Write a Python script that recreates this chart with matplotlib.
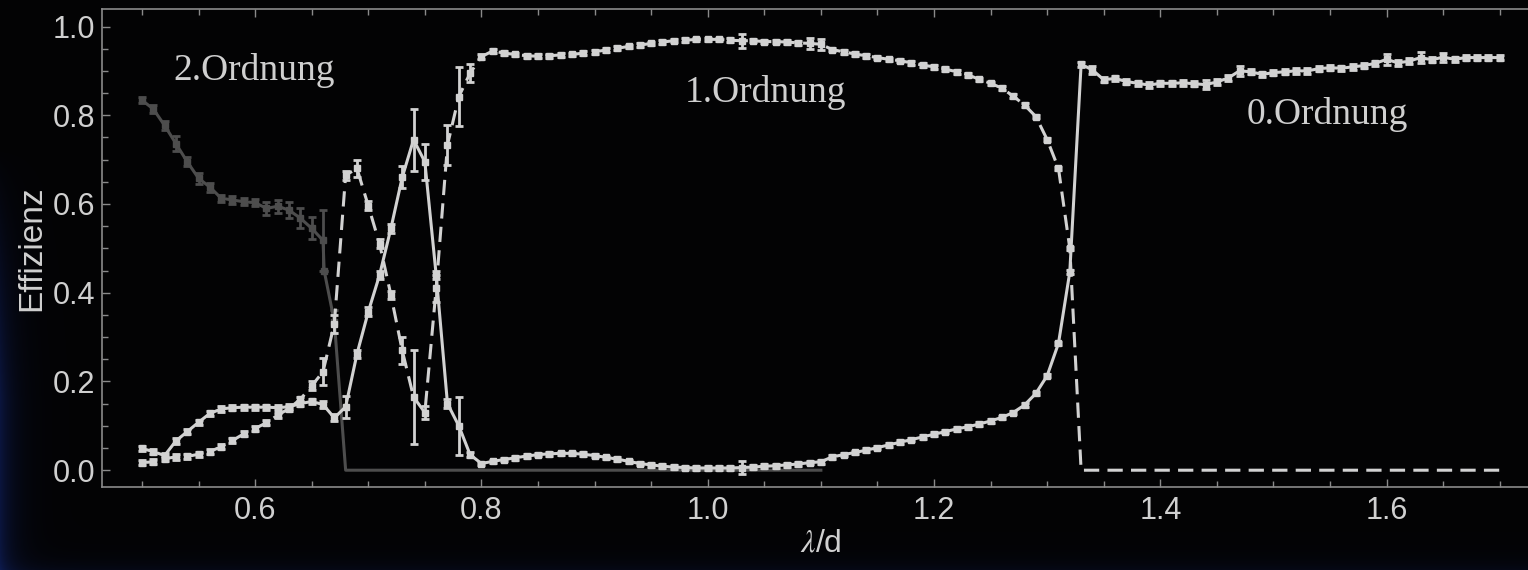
import numpy as np
import matplotlib
matplotlib.use("Agg")
import matplotlib.pyplot as plt
from matplotlib.ticker import MultipleLocator

plt.rcParams['font.family'] = ['Liberation Sans', 'DejaVu Sans']
plt.rcParams['mathtext.fontset'] = 'stix'

# --- data -------------------------------------------------------------
# 0. Ordnung (solid, light), lambda/d = 0.50 ... 1.70 in steps of 0.01
x0 = np.round(np.arange(0.50, 1.705, 0.01), 2)
y0 = [0.049, 0.042, 0.033, 0.066, 0.087, 0.108, 0.128, 0.138, 0.141, 0.142,
      0.142, 0.142, 0.141, 0.143, 0.150, 0.155, 0.148, 0.118, 0.143, 0.262,
      0.357, 0.440, 0.545, 0.660, 0.745, 0.695, 0.440, 0.150, 0.100, 0.035,
      0.015, 0.020, 0.024, 0.028, 0.032, 0.035, 0.037, 0.038, 0.038, 0.036,
      0.033, 0.029, 0.025, 0.020, 0.015, 0.012, 0.009, 0.007, 0.006, 0.005,
      0.005, 0.005, 0.005, 0.006, 0.007, 0.009, 0.010, 0.012, 0.014, 0.017,
      0.019, 0.030, 0.035, 0.040, 0.045, 0.051, 0.057, 0.063, 0.069, 0.075,
      0.081, 0.087, 0.093, 0.098, 0.104, 0.111, 0.119, 0.130, 0.147, 0.173,
      0.213, 0.286, 0.447, 0.915, 0.902, 0.880, 0.883, 0.876, 0.872, 0.868,
      0.872, 0.872, 0.873, 0.871, 0.869, 0.875, 0.884, 0.900, 0.898, 0.892,
      0.896, 0.898, 0.900, 0.900, 0.905, 0.907, 0.906, 0.909, 0.912, 0.917,
      0.926, 0.918, 0.922, 0.930, 0.925, 0.931, 0.926, 0.930, 0.930, 0.930,
      0.930]
e0 = [0.006, 0.006, 0.006, 0.006, 0.006, 0.006, 0.006, 0.006, 0.006, 0.006,
      0.006, 0.006, 0.006, 0.006, 0.006, 0.006, 0.008, 0.008, 0.025, 0.010,
      0.010, 0.010, 0.010, 0.025, 0.070, 0.040, 0.010, 0.010, 0.065, 0.006,
      0.004, 0.004, 0.004, 0.004, 0.004, 0.004, 0.004, 0.004, 0.004, 0.004,
      0.004, 0.004, 0.004, 0.004, 0.004, 0.004, 0.004, 0.004, 0.004, 0.004,
      0.004, 0.004, 0.004, 0.015, 0.004, 0.004, 0.004, 0.004, 0.004, 0.004,
      0.004, 0.004, 0.004, 0.004, 0.004, 0.004, 0.004, 0.004, 0.004, 0.004,
      0.004, 0.004, 0.004, 0.004, 0.004, 0.004, 0.004, 0.004, 0.004, 0.004,
      0.004, 0.004, 0.004, 0.006, 0.008, 0.006, 0.006, 0.006, 0.006, 0.006,
      0.006, 0.006, 0.006, 0.006, 0.010, 0.006, 0.006, 0.012, 0.006, 0.006,
      0.006, 0.006, 0.006, 0.006, 0.006, 0.006, 0.006, 0.006, 0.006, 0.006,
      0.012, 0.006, 0.006, 0.012, 0.006, 0.010, 0.006, 0.006, 0.006, 0.006,
      0.006]

# 1. Ordnung (dashed, light), measured 0.50 ... 1.32, zero beyond
x1 = np.round(np.arange(0.50, 1.325, 0.01), 2)
y1 = [0.017, 0.019, 0.026, 0.030, 0.031, 0.036, 0.042, 0.053, 0.067, 0.082,
      0.094, 0.107, 0.124, 0.139, 0.160, 0.190, 0.222, 0.330, 0.665, 0.680,
      0.596, 0.510, 0.395, 0.270, 0.165, 0.130, 0.410, 0.733, 0.842, 0.895,
      0.932, 0.945, 0.940, 0.937, 0.934, 0.933, 0.934, 0.936, 0.937, 0.940,
      0.943, 0.947, 0.951, 0.955, 0.958, 0.962, 0.965, 0.968, 0.969, 0.971,
      0.971, 0.971, 0.969, 0.968, 0.968, 0.966, 0.966, 0.965, 0.963, 0.962,
      0.960, 0.948, 0.943, 0.938, 0.934, 0.930, 0.926, 0.923, 0.918, 0.913,
      0.909, 0.904, 0.898, 0.891, 0.881, 0.872, 0.861, 0.843, 0.823, 0.797,
      0.745, 0.680, 0.500]
e1 = [0.006, 0.006, 0.006, 0.006, 0.006, 0.006, 0.006, 0.006, 0.006, 0.006,
      0.006, 0.006, 0.006, 0.006, 0.006, 0.010, 0.030, 0.020, 0.010, 0.020,
      0.010, 0.010, 0.010, 0.030, 0.105, 0.015, 0.030, 0.045, 0.066, 0.020,
      0.006, 0.004, 0.004, 0.004, 0.004, 0.004, 0.004, 0.004, 0.004, 0.004,
      0.004, 0.004, 0.004, 0.004, 0.004, 0.004, 0.004, 0.004, 0.004, 0.004,
      0.004, 0.004, 0.004, 0.016, 0.004, 0.004, 0.004, 0.004, 0.004, 0.012,
      0.012, 0.004, 0.004, 0.004, 0.004, 0.004, 0.004, 0.004, 0.004, 0.004,
      0.004, 0.004, 0.004, 0.004, 0.004, 0.004, 0.004, 0.004, 0.004, 0.004,
      0.004, 0.004, 0.004]
x1_zero = [1.33, 1.70]
y1_zero = [0.0, 0.0]

# 2. Ordnung (solid, dark), measured 0.50 ... 0.67, zero beyond
x2 = [0.50, 0.51, 0.52, 0.53, 0.54, 0.55, 0.56, 0.57, 0.58, 0.59,
      0.60, 0.61, 0.62, 0.63, 0.64, 0.65, 0.66, 0.661, 0.67]
y2 = [0.834, 0.814, 0.777, 0.736, 0.695, 0.658, 0.638, 0.613, 0.609, 0.605,
      0.603, 0.590, 0.595, 0.586, 0.568, 0.545, 0.518, 0.450, 0.335]
e2 = [0.007, 0.008, 0.010, 0.017, 0.010, 0.012, 0.010, 0.008, 0.008, 0.008,
      0.008, 0.015, 0.015, 0.018, 0.022, 0.025, 0.068, 0.0, 0.025]
x2_zero = [0.68, 1.10]
y2_zero = [0.0, 0.0]

labels = ['2.Ordnung', '1.Ordnung', '0.Ordnung']
label_x = [0.528, 0.980, 1.476]
label_y = [0.879, 0.830, 0.780]

light = '#d2d2d2'
dark = '#4d4d4d'
axcol = '#8a8a8a'

# --- figure -------------------------------------------------------------
fig = plt.figure(figsize=(15.28, 5.70), dpi=100, facecolor='#030304')

# dark background with a faint blue glow on the left edge
bg = fig.add_axes([0, 0, 1, 1], zorder=-10)
H, W = 570, 1528
xx = np.linspace(0, W, W)[None, :]
yy = np.linspace(0, H, H)[:, None]
glow = np.exp(-xx / 14.0) * np.clip((yy - 150) / 250.0, 0, 1)
glow = glow + 0.3 * np.exp(-(H - yy) / 10.0) * np.ones_like(xx)
img = np.zeros((H, W, 3))
img[..., 0] = 0.012 + 0.03 * glow
img[..., 1] = 0.012 + 0.07 * glow
img[..., 2] = 0.018 + 0.22 * glow
bg.imshow(img, aspect='auto', extent=[0, 1, 0, 1])
bg.set_axis_off()

# axes run past the right edge of the picture, as in the original
ax = fig.add_axes([0.0670, 0.1451, 0.9400, 0.8386])
ax.set_facecolor('none')

# 2nd order
ax.plot(x2 + x2_zero, y2 + y2_zero, color=dark, lw=2.2, zorder=2)
ax.errorbar(x2, y2, yerr=e2, fmt='s', ms=4.5, color=dark, ecolor=dark,
            elinewidth=2, capsize=3, capthick=2, zorder=2)

# 1st order (dashed)
ax.plot(list(x1) + x1_zero, y1 + y1_zero, color=light, lw=2.2,
        linestyle=(0, (5, 2.7)), zorder=3)
ax.errorbar(x1, y1, yerr=e1, fmt='s', ms=4.5, color=light, ecolor=light,
            elinewidth=2, capsize=3, capthick=2, zorder=3)

# 0th order (solid)
ax.errorbar(x0, y0, yerr=e0, fmt='-s', ms=4.5, lw=2.2, color=light,
            ecolor=light, elinewidth=2, capsize=3, capthick=2, zorder=4)

for t, tx, ty in zip(labels, label_x, label_y):
    ax.text(tx, ty, t, family=['Liberation Serif', 'DejaVu Serif'],
            fontsize=27, color='#cfcfcf', ha='left', va='baseline')

ax.set_xlim(0.465, 1.7344)
ax.set_ylim(-0.0385, 1.0388)

ax.xaxis.set_major_locator(MultipleLocator(0.2))
ax.xaxis.set_minor_locator(MultipleLocator(0.05))
ax.yaxis.set_major_locator(MultipleLocator(0.2))
ax.yaxis.set_minor_locator(MultipleLocator(0.05))
ax.xaxis.set_major_formatter(plt.FormatStrFormatter('%.1f'))
ax.yaxis.set_major_formatter(plt.FormatStrFormatter('%.1f'))

ax.tick_params(which='both', direction='in', top=True, right=False,
               color=axcol, labelcolor='#d0d0d0', labelsize=22)
ax.tick_params(which='major', length=6, width=1)
ax.tick_params(which='minor', length=4, width=1)
ax.tick_params(axis='x', pad=6)
ax.tick_params(axis='y', pad=5)

for side in ['left', 'bottom', 'top']:
    ax.spines[side].set_color(axcol)
    ax.spines[side].set_linewidth(1.2)
ax.spines['right'].set_visible(False)

ax.set_xlabel(r'$\lambda$/d', fontsize=23, color='#d0d0d0', labelpad=2)
ax.set_ylabel('Effizienz', fontsize=24, color='#d0d0d0', labelpad=4)

fig.savefig('out.png', dpi=100, facecolor=fig.get_facecolor())
